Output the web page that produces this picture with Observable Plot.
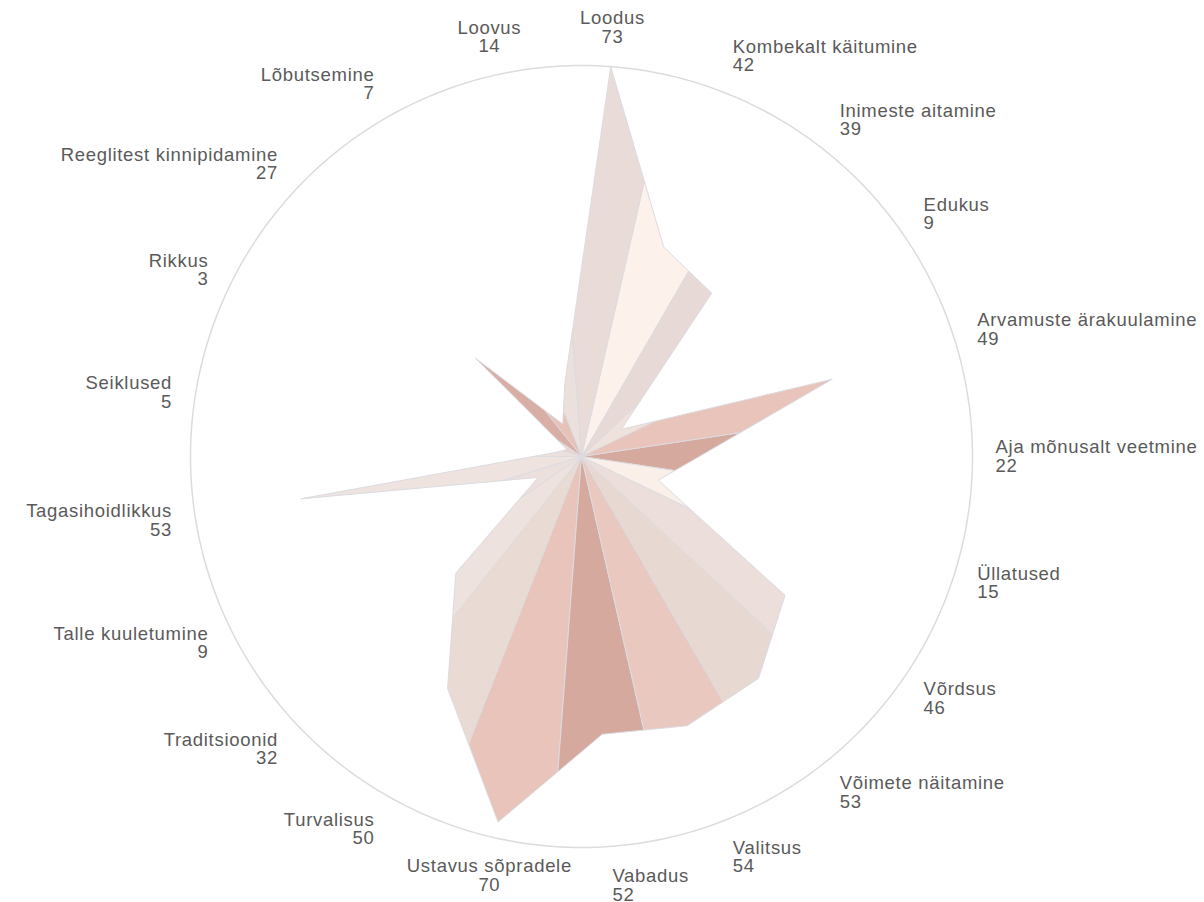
<!DOCTYPE html>
<html><head><meta charset="utf-8">
<script src="https://cdn.jsdelivr.net/npm/d3@7"></script>
<script src="https://cdn.jsdelivr.net/npm/@observablehq/plot@0.6"></script>
<style>html,body{margin:0;padding:0;background:#fff;} #chart svg{display:block;}</style>
</head><body><div id="chart"></div>
<script>
// Categories in counter-clockwise order, starting at the right (east)
const categories = [
  "Aja mõnusalt veetmine", "Arvamuste ärakuulamine", "Edukus", "Inimeste aitamine",
  "Kombekalt käitumine", "Loodus", "Loovus", "Lõbutsemine", "Reeglitest kinnipidamine",
  "Rikkus", "Seiklused", "Tagasihoidlikkus", "Talle kuuletumine", "Traditsioonid",
  "Turvalisus", "Ustavus sõpradele", "Vabadus", "Valitsus", "Võimete näitamine",
  "Võrdsus", "Üllatused"
];
const values = [22, 49, 9, 39, 42, 73, 14, 7, 27, 3, 5, 53, 9, 32, 50, 70, 52, 54, 53, 46, 15];
const shades = [
  "#d6a99e", "#e8c4ba", "#efe2dd", "#e7dad6", "#fdf1ec", "#e9dcd8", "#ece0dc", "#e6c2b8",
  "#d9aea4", "#e8d6d0", "#ece0dc", "#eee3df", "#ece0dc", "#eee2de", "#e9dad4", "#e8c4ba",
  "#d5a99e", "#e9c8bf", "#e8d8d2", "#ecdfdb", "#fbefea"
];

const n = categories.length;
const step = 2 * Math.PI / n;
const vmax = d3.max(values);
const pts = values.map((v, i) => ({a: i * step, x: v * Math.cos(i * step), y: v * Math.sin(i * step)}));
function cut(phi, A, B) {
  const dx = Math.cos(phi), dy = Math.sin(phi);
  const ex = B.x - A.x, ey = B.y - A.y;
  const t = -(dx * A.y - dy * A.x) / (dx * ey - dy * ex);
  return {x: A.x + t * ex, y: A.y + t * ey};
}
const kites = [];
categories.forEach((c, i) => {
  const P = pts[i], prev = pts[(i - 1 + n) % n], next = pts[(i + 1) % n];
  const q1 = cut(P.a - step / 2, prev, P);
  const q2 = cut(P.a + step / 2, P, next);
  [{x: 0, y: 0}, q1, P, q2, {x: 0, y: 0}].forEach(q => kites.push({cat: c, x: q.x, y: q.y}));
});
const ring = d3.range(0, 360, 1).map(d => ({x: vmax * Math.cos(d * Math.PI / 180), y: vmax * Math.sin(d * Math.PI / 180)}));
const labels = categories.map((c, i) => {
  const co = Math.cos(i * step), si = Math.sin(i * step);
  const anchor = (co >= 0.25 || (si < 0 && co > 0.05)) ? "start" : (co <= -0.25 ? "end" : "middle");
  return {text: c + "\n" + values[i], x: vmax * 1.059 * co, y: vmax * 1.10 * si, anchor};
});
const textOpts = {x: "x", y: "y", text: "text", fontSize: 18.5, fill: "#5a5a5a", lineHeight: 1, lineAnchor: "middle"};

const chart = Plot.plot({
  width: 1204, height: 902,
  marginLeft: 190, marginRight: 232, marginTop: 65, marginBottom: 55,
  x: {domain: [-vmax, vmax], axis: null},
  y: {domain: [-vmax, vmax], axis: null},
  color: {domain: categories, range: shades},
  style: {fontFamily: "'Liberation Sans', Arial, sans-serif", background: "#fff", letterSpacing: "0.7px"},
  marks: [
    Plot.line(ring, {x: "x", y: "y", stroke: "#dcdcdc", strokeWidth: 1.5, curve: "linear-closed"}),
    Plot.line(kites, {x: "x", y: "y", z: "cat", fill: "cat", stroke: "#dcdbe0", strokeWidth: 1}),
    Plot.text(labels.filter(d => d.anchor === "start"), {...textOpts, textAnchor: "start"}),
    Plot.text(labels.filter(d => d.anchor === "end"), {...textOpts, textAnchor: "end"}),
    Plot.text(labels.filter(d => d.anchor === "middle"), {...textOpts, textAnchor: "middle"})
  ]
});
document.getElementById("chart").appendChild(chart);
</script>
</body></html>
